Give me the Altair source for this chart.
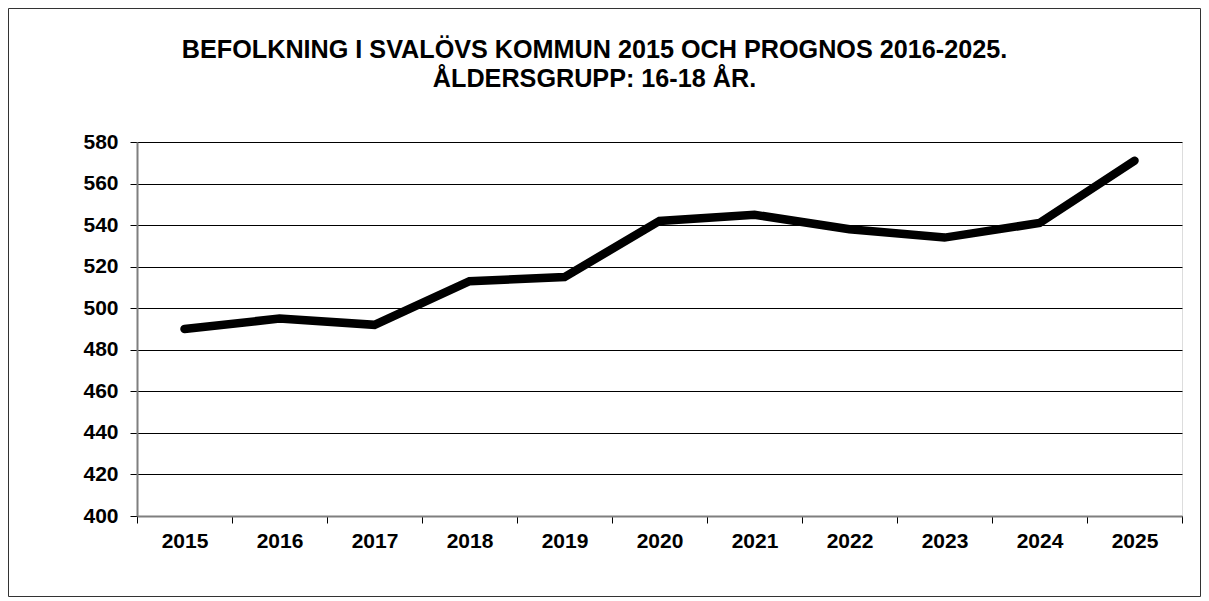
import altair as alt
import pandas as pd

years = ["2015", "2016", "2017", "2018", "2019", "2020", "2021", "2022", "2023", "2024", "2025"]
values = [490, 495, 492, 513, 515, 542, 545, 538, 534, 541, 571]
y_ticks = [400, 420, 440, 460, 480, 500, 520, 540, 560, 580]
title_lines = ["BEFOLKNING I SVALÖVS KOMMUN 2015 OCH PROGNOS 2016-2025.", "ÅLDERSGRUPP: 16-18 ÅR."]

df = pd.DataFrame({"year": years, "value": values})

W, H = 1045, 374
L, T, R, B = 129, 134, 19, 81
FONT = "Liberation Sans"

x_enc = alt.X("year:N", sort=years, title=None,
              scale=alt.Scale(domain=years, paddingInner=0, paddingOuter=0),
              axis=alt.Axis(labelAngle=0, tickBand="extent", grid=False,
                            tickSize=7, tickColor="#000000", tickWidth=1,
                            domainColor="#7f7f7f", domainWidth=2,
                            labelFont=FONT, labelFontSize=21, labelFontWeight="bold",
                            labelColor="#000000", labelPadding=7))
y_enc = alt.Y("value:Q", title=None,
              scale=alt.Scale(domain=[400, 580], nice=False, zero=False),
              axis=alt.Axis(values=y_ticks, grid=True, gridColor="#000000", gridWidth=1,
                            tickSize=7, tickColor="#000000", tickWidth=1,
                            domainColor="#7f7f7f", domainWidth=2,
                            labelFont=FONT, labelFontSize=21, labelFontWeight="bold",
                            labelColor="#000000", labelPadding=12))

line = alt.Chart(df).mark_line(color="#000000", strokeWidth=8.5, strokeCap="round",
                               strokeJoin="miter").encode(x=x_enc, y=y_enc)

frame = alt.Chart(alt.Data(values=[{"a": 1}])).mark_rect(
    fill=None, stroke="#333333", strokeWidth=1
).encode(
    x=alt.value(-L + 0.5), x2=alt.value(W + R - 0.5),
    y=alt.value(-T + 0.5), y2=alt.value(H + B - 0.5),
)

chart = alt.layer(line, frame).properties(
    width=W, height=H,
    autosize=alt.AutoSizeParams(type="none"),
    padding={"left": L, "top": T, "right": R, "bottom": B},
    title=alt.TitleParams(text=title_lines, font=FONT, fontSize=25.2, fontWeight="bold",
                          color="#000000", anchor="middle", frame="group", dx=-65,
                          lineHeight=29, offset=0, dy=84),
).configure_view(stroke="#8a8a8a", strokeWidth=2).configure(background="white")

chart.save("out.html", embed_options={"renderer": "svg", "actions": False})
